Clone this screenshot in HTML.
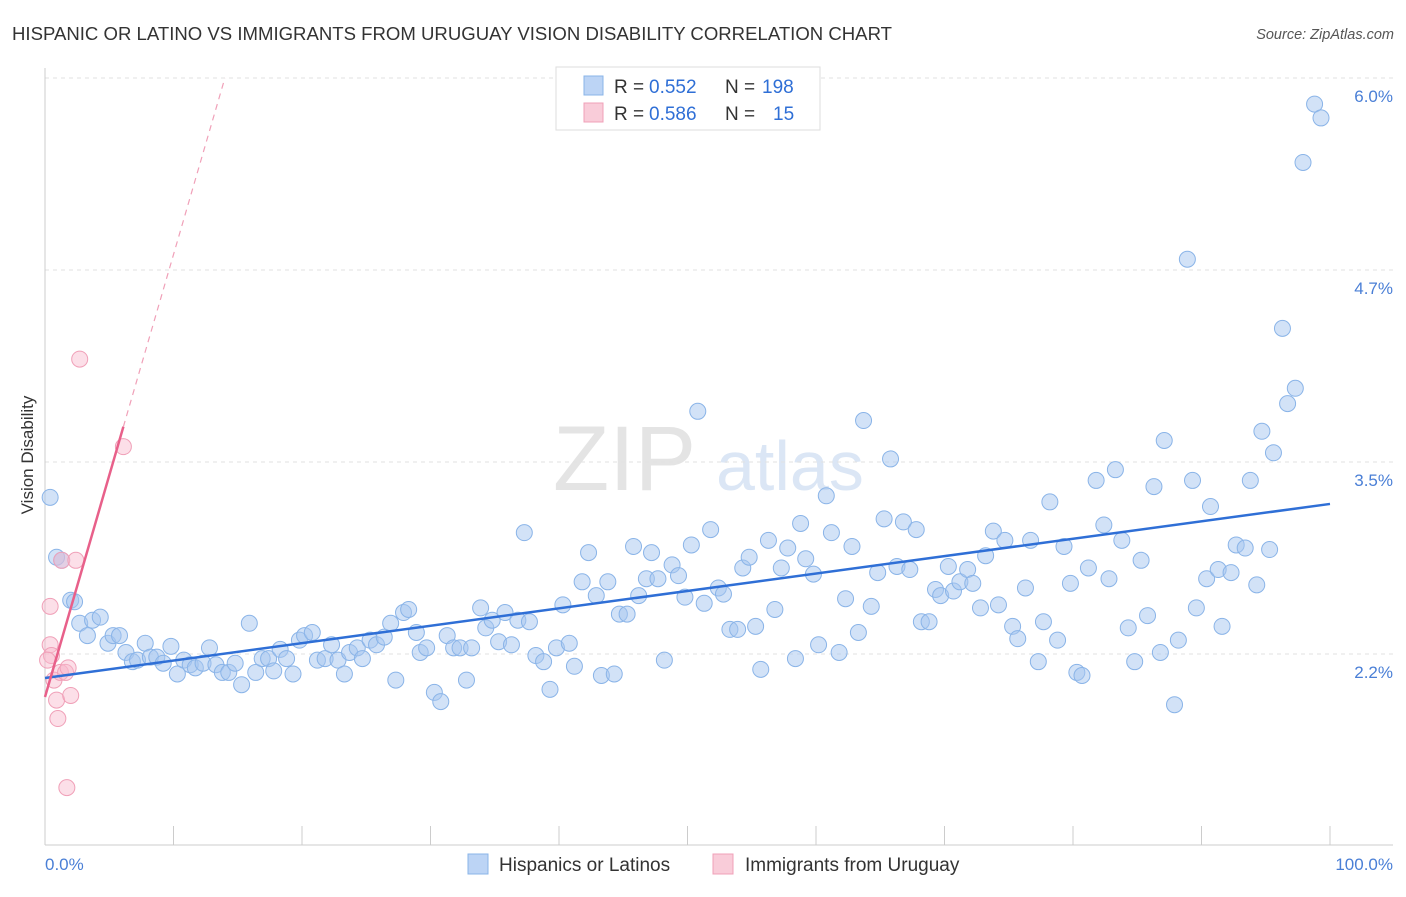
<!DOCTYPE html>
<html><head><meta charset="utf-8">
<style>
body{margin:0;background:#fff;font-family:"Liberation Sans",sans-serif;}
svg text{font-family:"Liberation Sans",sans-serif;}
</style></head>
<body>
<svg id="chart" width="1406" height="892" viewBox="0 0 1406 892" xmlns="http://www.w3.org/2000/svg">
<text x="12" y="40" font-size="18.6" fill="#333" textLength="880" lengthAdjust="spacingAndGlyphs">HISPANIC OR LATINO VS IMMIGRANTS FROM URUGUAY VISION DISABILITY CORRELATION CHART</text>
<text x="1394" y="39" font-size="14.5" fill="#555" font-style="italic" text-anchor="end">Source: ZipAtlas.com</text>
<text x="553" y="490" font-size="92" fill="#e4e4e4" font-family="Liberation Serif">ZIP</text>
<text x="716" y="490" font-size="70" fill="#dbe6f5">atlas</text>
<g id="grid"></g>
<line x1="45" y1="68" x2="45" y2="845" stroke="#ccc"/>
<line x1="45" y1="845" x2="1393" y2="845" stroke="#ccc"/>
<g id="xticks"></g>
<text transform="translate(33,455) rotate(-90)" font-size="17" fill="#333" text-anchor="middle">Vision Disability</text>
<text x="45" y="870" font-size="17" fill="#4a7fd6">0.0%</text>
<text x="1393" y="870" font-size="17" fill="#4a7fd6" text-anchor="end">100.0%</text>
<g id="pts"></g>
<g id="lines"></g>
<g>
<rect x="556" y="67" width="264" height="63" fill="#fff" stroke="#ddd"/>
<rect x="584" y="76" width="19" height="19" fill="#bcd4f5" stroke="#8ab4e8"/>
<text x="614" y="93" font-size="19" fill="#333">R =</text>
<text x="649" y="93" font-size="19" fill="#2f6fd6">0.552</text>
<text x="725" y="93" font-size="19" fill="#333">N =</text>
<text x="762" y="93" font-size="19" fill="#2f6fd6">198</text>
<rect x="584" y="103" width="19" height="19" fill="#f9ccd9" stroke="#f0a0b8"/>
<text x="614" y="120" font-size="19" fill="#333">R =</text>
<text x="649" y="120" font-size="19" fill="#2f6fd6">0.586</text>
<text x="725" y="120" font-size="19" fill="#333">N =</text>
<text x="773" y="120" font-size="19" fill="#2f6fd6">15</text>
</g>
<g>
<rect x="468" y="854" width="20" height="20" fill="#bcd4f5" stroke="#8ab4e8"/>
<text x="499" y="871" font-size="19" fill="#333">Hispanics or Latinos</text>
<rect x="713" y="854" width="20" height="20" fill="#f9ccd9" stroke="#f0a0b8"/>
<text x="745" y="871" font-size="19" fill="#333">Immigrants from Uruguay</text>
</g>
</svg>
<script>
const yTicks=[2.25,3.5,4.75,6.0];
const yTickLabels=["2.2%","3.5%","4.7%","6.0%"];
const blueX=[0.4,0.9,1.3,2.0,2.3,2.7,3.3,3.7,4.3,4.9,5.3,5.8,6.3,6.8,7.2,7.8,8.2,8.7,9.2,9.8,10.3,10.8,11.3,11.7,12.3,12.8,13.3,13.8,14.3,14.8,15.3,15.9,16.4,16.9,17.4,17.8,18.3,18.8,19.3,19.8,20.2,20.8,21.2,21.8,22.3,22.8,23.3,23.7,24.3,24.7,25.3,25.8,26.4,26.9,27.3,27.9,28.3,28.9,29.2,29.7,30.3,30.8,31.3,31.8,32.3,32.8,33.2,33.9,34.3,34.8,35.3,35.8,36.3,36.8,37.3,37.7,38.2,38.8,39.3,39.8,40.3,40.8,41.2,41.8,42.3,42.9,43.3,43.8,44.3,44.7,45.3,45.8,46.2,46.8,47.2,47.7,48.2,48.8,49.3,49.8,50.3,50.8,51.3,51.8,52.4,52.8,53.3,53.9,54.3,54.8,55.3,55.7,56.3,56.8,57.3,57.8,58.4,58.8,59.2,59.8,60.2,60.8,61.2,61.8,62.3,62.8,63.3,63.7,64.3,64.8,65.3,65.8,66.3,66.8,67.3,67.8,68.2,68.8,69.3,69.7,70.3,70.7,71.2,71.8,72.2,72.8,73.2,73.8,74.2,74.7,75.3,75.7,76.3,76.7,77.3,77.7,78.2,78.8,79.3,79.8,80.3,80.7,81.2,81.8,82.4,82.8,83.3,83.8,84.3,84.8,85.3,85.8,86.3,86.8,87.1,87.9,88.2,88.9,89.3,89.6,90.4,90.7,91.3,91.6,92.3,92.7,93.4,93.8,94.3,94.7,95.3,95.6,96.3,96.7,97.3,97.9,98.8,99.3];
const blueY=[3.27,2.88,2.86,2.60,2.59,2.45,2.37,2.47,2.49,2.32,2.37,2.37,2.26,2.20,2.21,2.32,2.23,2.23,2.19,2.30,2.12,2.21,2.18,2.16,2.19,2.29,2.18,2.13,2.13,2.19,2.05,2.45,2.13,2.22,2.22,2.14,2.28,2.22,2.12,2.34,2.37,2.39,2.21,2.22,2.31,2.21,2.12,2.26,2.29,2.22,2.34,2.31,2.36,2.45,2.08,2.52,2.54,2.39,2.26,2.29,2.00,1.94,2.37,2.29,2.29,2.08,2.29,2.55,2.42,2.47,2.33,2.52,2.31,2.47,3.04,2.46,2.24,2.20,2.02,2.29,2.57,2.32,2.17,2.72,2.91,2.63,2.11,2.72,2.12,2.51,2.51,2.95,2.63,2.74,2.91,2.74,2.21,2.83,2.76,2.62,2.96,3.83,2.58,3.06,2.68,2.64,2.41,2.41,2.81,2.88,2.43,2.15,2.99,2.54,2.81,2.94,2.22,3.10,2.87,2.77,2.31,3.28,3.04,2.26,2.61,2.95,2.39,3.77,2.56,2.78,3.13,3.52,2.82,3.11,2.80,3.06,2.46,2.46,2.67,2.63,2.82,2.66,2.72,2.80,2.71,2.55,2.89,3.05,2.57,2.99,2.43,2.35,2.68,2.99,2.20,2.46,3.24,2.34,2.95,2.71,2.13,2.11,2.81,3.38,3.09,2.74,3.45,2.99,2.42,2.20,2.86,2.50,3.34,2.26,3.64,1.92,2.34,4.82,3.38,2.55,2.74,3.21,2.80,2.43,2.78,2.96,2.94,3.38,2.70,3.70,2.93,3.56,4.37,3.88,3.98,5.45,5.83,5.74];
const pinkX=[0.4,0.4,0.5,0.7,0.9,1.0,1.2,1.3,1.6,1.8,2.0,1.7,2.4,2.7,6.1,0.2];
const pinkY=[2.31,2.56,2.24,2.08,1.95,1.83,2.13,2.86,2.13,2.16,1.98,1.38,2.86,4.17,3.60,2.21];
const blueTrend=[[0,2.094],[100,3.227]];
const pinkTrend=[[0,1.97],[6.1,3.73]];
const pinkDash=[[6.1,3.73],[14,6.0]];

const NS="http://www.w3.org/2000/svg";
const sx=v=>45+v*12.85;
const sy=v=>654-(v-2.25)*153.6;
function mk(tag,attrs,parent){const e=document.createElementNS(NS,tag);for(const k in attrs)e.setAttribute(k,attrs[k]);parent.appendChild(e);return e;}
const grid=document.getElementById('grid');
yTicks.forEach((t,i)=>{
  const l=mk('line',{x1:45,x2:1393,y1:sy(t),y2:sy(t),stroke:'#e2e2e2','stroke-dasharray':'4,4'},grid);
  
  
  const tx=mk('text',{x:1393,y:sy(t)+24,'font-size':17,fill:'#4a7fd6','text-anchor':'end'},grid);
  tx.textContent=yTickLabels[i];
  
  
});
const xt=document.getElementById('xticks');
for(let i=0;i<=10;i++){
  const l=mk('line',{x1:sx(i*10),x2:sx(i*10),y1:826,y2:845,stroke:'#ccc'},xt);
  
  
}
const pts=document.getElementById('pts');
blueX.forEach((x,i)=>{
  const c=mk('circle',{cx:sx(x),cy:sy(blueY[i]),r:8,fill:'rgba(165,198,240,0.5)',stroke:'#8ab4e8','stroke-width':1},pts);
  
  
});
pinkX.forEach((x,i)=>{
  const c=mk('circle',{cx:sx(x),cy:sy(pinkY[i]),r:8,fill:'rgba(248,185,205,0.45)',stroke:'#f0a0b8','stroke-width':1},pts);
  
  
});
const lines=document.getElementById('lines');
let b=mk('line',{x1:sx(blueTrend[0][0]),y1:sy(blueTrend[0][1]),x2:sx(blueTrend[1][0]),y2:sy(blueTrend[1][1]),stroke:'#2f6fd6','stroke-width':2.5},lines);


let p=mk('line',{x1:sx(pinkTrend[0][0]),y1:sy(pinkTrend[0][1]),x2:sx(pinkTrend[1][0]),y2:sy(pinkTrend[1][1]),stroke:'#e8608a','stroke-width':2.5},lines);


let d=mk('line',{x1:sx(pinkDash[0][0]),y1:sy(pinkDash[0][1]),x2:sx(pinkDash[1][0]),y2:sy(pinkDash[1][1]),stroke:'#f0a0b8','stroke-width':1.2,'stroke-dasharray':'6,5'},lines);


</script>
</body></html>
